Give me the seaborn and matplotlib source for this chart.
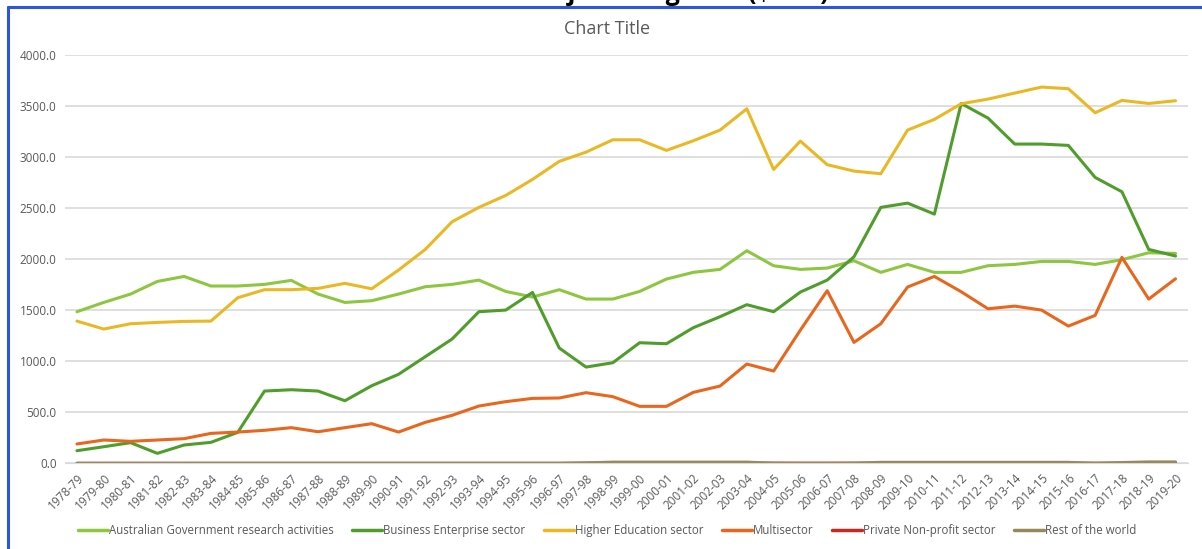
import numpy as np
import pandas as pd
import seaborn as sns
import matplotlib.pyplot as plt
from matplotlib.lines import Line2D

# ---------- DATA ----------
years = ["1978-79", "1979-80", "1980-81", "1981-82", "1982-83", "1983-84", "1984-85",
         "1985-86", "1986-87", "1987-88", "1988-89", "1989-90", "1990-91", "1991-92",
         "1992-93", "1993-94", "1994-95", "1995-96", "1996-97", "1997-98", "1998-99",
         "1999-00", "2000-01", "2001-02", "2002-03", "2003-04", "2004-05", "2005-06",
         "2006-07", "2007-08", "2008-09", "2009-10", "2010-11", "2011-12", "2012-13",
         "2013-14", "2014-15", "2015-16", "2016-17", "2017-18", "2018-19", "2019-20"]

aus_gov = [1487, 1578, 1660, 1784, 1833, 1739, 1739, 1755, 1794, 1660, 1578, 1595,
           1660, 1732, 1755, 1797, 1686, 1631, 1703, 1611, 1611, 1686, 1807, 1873,
           1902, 2085, 1938, 1902, 1915, 1987, 1873, 1951, 1873, 1873, 1938, 1951,
           1980, 1980, 1951, 1997, 2065, 2059]

business = [124, 163, 203, 98, 180, 206, 304, 709, 722, 709, 614, 761,
            873, 1046, 1219, 1487, 1503, 1676, 1131, 944, 987, 1183, 1173, 1330,
            1438, 1556, 1487, 1680, 1797, 2026, 2510, 2552, 2444, 3529, 3386, 3131,
            3131, 3118, 2804, 2663, 2098, 2033]

higher_ed = [1395, 1317, 1369, 1382, 1392, 1395, 1624, 1703, 1703, 1716, 1765, 1712,
             1895, 2098, 2369, 2510, 2627, 2784, 2961, 3052, 3173, 3173, 3069, 3163,
             3268, 3477, 2882, 3160, 2929, 2866, 2840, 3268, 3373, 3526, 3572, 3631,
             3690, 3674, 3438, 3559, 3529, 3556]

multisector = [190, 229, 216, 229, 242, 294, 307, 324, 350, 310, 350, 389,
               307, 402, 471, 562, 605, 637, 641, 693, 654, 559, 559, 696,
               758, 974, 905, 1307, 1693, 1186, 1369, 1729, 1833, 1683, 1516, 1542,
               1503, 1346, 1451, 2020, 1611, 1810]

private_np = [1, 1, 1, 1, 1, 1, 1, 1, 1, 1, 1, 1,
              1, 1, 1, 1, 1, 1, 1, 2, 2, 2, 2, 2,
              2, 2, 2, 2, 2, 2, 2, 2, 2, 2, 2, 2,
              2, 2, 2, 2, 3, 3]

rest_world = [0, 0, 0, 0, 0, 0, 0, 0, 0, 0, 0, 0,
              0, 0, 0, 0, 0, 0, 0, 5, 12, 12, 12, 12,
              12, 12, 2, 0, 0, 2, 10, 10, 10, 10, 10, 10,
              10, 10, 0, 8, 14, 14]

series = {
    "Australian Government research activities": aus_gov,
    "Business Enterprise sector": business,
    "Higher Education sector": higher_ed,
    "Multisector": multisector,
    "Private Non-profit sector": private_np,
    "Rest of the world": rest_world,
}
colors = ["#8dc63f", "#4f9d2a", "#eab824", "#e8661d", "#c8281e", "#968858"]

rows = []
for name, vals in series.items():
    for i, v in enumerate(vals):
        rows.append({"pos": i, "value": v, "sector": name})
df = pd.DataFrame(rows)

# ---------- PLOT ----------
sns.set_style("white")
plt.rcParams["font.family"] = ["Open Sans", "DejaVu Sans"]

fig = plt.figure(figsize=(12.02, 5.49), dpi=100)
ax = fig.add_axes([0.054, 0.156, 0.934, 0.743])

sns.lineplot(data=df, x="pos", y="value", hue="sector", palette=colors,
             linewidth=2.2, ax=ax, legend=False, sort=False)

ax.set_xlim(-0.45, len(years) - 1 + 0.45)
ax.set_ylim(0, 4000)
ax.set_yticks(np.arange(0, 4001, 500))
ax.set_yticklabels([f"{t:.1f}" for t in np.arange(0, 4001, 500)])
ax.set_xticks(range(len(years)))
ax.set_xticklabels(years, rotation=45, ha="right", rotation_mode="anchor")
ax.tick_params(axis="both", length=0, labelsize=8.5, colors="#595959", pad=6)
ax.grid(axis="y", color="#d9d9d9", linewidth=1.2)
ax.set_axisbelow(True)
for s in ["top", "right", "left"]:
    ax.spines[s].set_visible(False)
ax.spines["bottom"].set_color("#d9d9d9")
ax.set_xlabel("")
ax.set_ylabel("")

fig.text(0.505, 0.948, "Chart Title", ha="center", va="center",
         fontsize=13, color="#595959")
# page title, mostly cut off above the chart frame as in the source
fig.text(0.565, 1.012, "Major Categories ($'000)", ha="center",
         va="center", fontsize=18, fontweight="bold", color="black")

handles = [Line2D([], [], color=c, linewidth=2.5) for c in colors]
fig.legend(handles, list(series.keys()), loc="center", bbox_to_anchor=(0.505, 0.033),
           ncol=6, frameon=False, fontsize=8.3, labelcolor="#595959",
           handlelength=2.6, handletextpad=0.1, columnspacing=1.6)

# blue frame
fig.add_artist(Line2D([0.007, 1.0], [0.987, 0.987], color="#2a56e0", linewidth=2.2))
fig.add_artist(Line2D([0.007, 0.007], [0.0, 0.987], color="#2a56e0", linewidth=2.2))

fig.savefig("out.png", dpi=100)
